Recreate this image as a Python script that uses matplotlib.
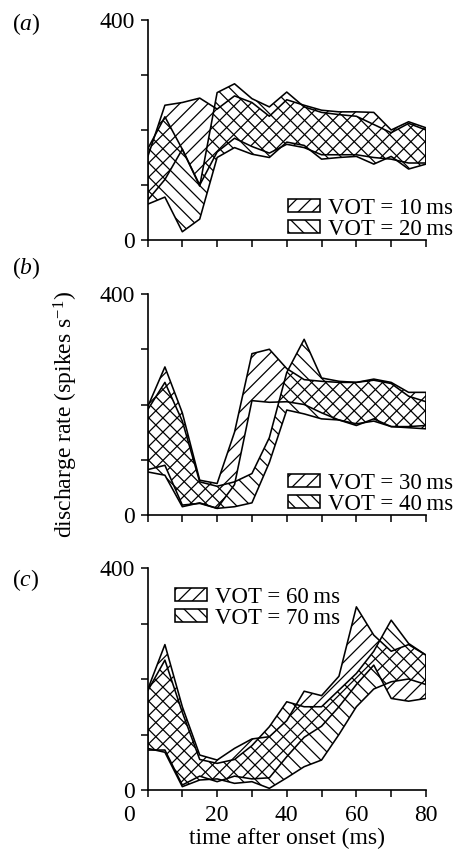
import matplotlib
matplotlib.use('Agg')
import matplotlib.pyplot as plt
from matplotlib.transforms import ScaledTranslation

DPI = 85
K = 100 / DPI          # keep pixel sizes as if at 100 dpi, but denser hatching

plt.rcParams['font.family'] = ['Liberation Serif', 'DejaVu Serif']
plt.rcParams['mathtext.fontset'] = 'custom'
plt.rcParams['mathtext.rm'] = 'Liberation Serif'
plt.rcParams['mathtext.it'] = 'Liberation Serif:italic'
plt.rcParams['hatch.linewidth'] = 0.9 * K

FS = 17 * K
FS_LEG = 16.5 * K

# ---------------- data ----------------
time_ms = [0, 5, 10, 15, 20, 25, 30, 35, 40, 45, 50, 55, 60, 65, 70, 75, 80]

# panel (a)
vot10_upper = [150, 245, 250, 258, 238, 262, 250, 225, 255, 245, 236, 233, 233, 232, 200, 215, 204]
vot10_lower = [72, 110, 165, 100, 160, 185, 170, 158, 174, 168, 155, 155, 155, 150, 147, 140, 140]
vot20_upper = [165, 224, 165, 98, 268, 284, 257, 242, 269, 242, 232, 228, 225, 210, 195, 212, 200]
vot20_lower = [65, 78, 15, 38, 150, 168, 156, 150, 178, 172, 147, 150, 152, 138, 152, 129, 138]

# panel (b)
vot30_upper = [195, 268, 185, 63, 57, 150, 292, 300, 265, 245, 242, 240, 240, 246, 240, 222, 222]
vot30_lower = [82, 90, 18, 21, 12, 55, 207, 204, 205, 200, 185, 172, 162, 174, 160, 158, 156]
vot40_upper = [190, 240, 170, 60, 52, 60, 75, 140, 258, 318, 248, 242, 240, 244, 238, 215, 205]
vot40_lower = [78, 72, 15, 22, 12, 15, 22, 95, 190, 183, 174, 172, 165, 170, 160, 160, 162]

# panel (c)
vot60_upper = [180, 262, 150, 63, 54, 75, 92, 96, 125, 178, 170, 205, 330, 279, 250, 262, 243]
vot60_lower = [72, 72, 9, 25, 15, 25, 20, 22, 60, 95, 115, 150, 190, 225, 165, 160, 165]
vot70_upper = [178, 234, 140, 55, 48, 55, 80, 114, 159, 150, 150, 180, 210, 250, 306, 264, 243]
vot70_lower = [75, 68, 6, 18, 20, 12, 15, 3, 22, 42, 54, 100, 150, 182, 195, 200, 190]

panel_letters = ['a', 'b', 'c']
legend_labels = [['VOT = 10\u2009ms', 'VOT = 20\u2009ms'],
                 ['VOT = 30\u2009ms', 'VOT = 40\u2009ms'],
                 ['VOT = 60\u2009ms', 'VOT = 70\u2009ms']]
bands = [[(vot10_lower, vot10_upper), (vot20_lower, vot20_upper)],
         [(vot30_lower, vot30_upper), (vot40_lower, vot40_upper)],
         [(vot60_lower, vot60_upper), (vot70_lower, vot70_upper)]]
hatches = ['//', '\\\\']

x_major = [0, 20, 40, 60, 80]
x_minor = [10, 30, 50, 70]
y_ticks = [0, 100, 200, 300, 400]
y_ticklabels = ['0', '', '', '', '400']

# ---------------- layout ----------------
W, H = 459, 849
fig = plt.figure(figsize=(W / DPI, H / DPI), dpi=DPI)

ax_px = [(20, 240), (294, 515), (568, 790)]        # (top, bottom) in pixels
letter_y = [24, 268, 580]
legend_anchor = [(288, 219), (288, 494), (175, 608)]

left_px, right_px = 147.5, 426
axes = []
for i, (top, bot) in enumerate(ax_px):
    ax = fig.add_axes([left_px / W, 1 - bot / H, (right_px - left_px) / W, (bot - top) / H])
    axes.append(ax)
    handles = []
    for (lo, up), h, lab in zip(bands[i], hatches, legend_labels[i]):
        p = ax.fill_between(time_ms, lo, up, facecolor='none', edgecolor='black',
                            hatch=h, linewidth=1.15 * K, label=lab)
        handles.append(p)
    ax.set_xlim(0, 80)
    ax.set_ylim(0, 400)
    for s in ['top', 'right']:
        ax.spines[s].set_visible(False)
    for s in ['left', 'bottom']:
        ax.spines[s].set_linewidth(1.2 * K)
    ax.set_xticks(x_major)
    ax.set_xticks(x_minor, minor=True)
    ax.set_yticks(y_ticks)
    ax.set_yticklabels(y_ticklabels)
    ax.tick_params(which='both', direction='out', length=5 * K, width=1.1 * K,
                   labelsize=FS, pad=4 * K)
    ax.tick_params(axis='x', which='both', pad=6 * K)
    if i < 2:
        ax.tick_params(axis='x', which='both', labelbottom=False)
    ax.set_xticklabels([str(v) for v in x_major] if i == 2 else [])

    lx, ly = legend_anchor[i]
    ax.legend(handles=handles, loc='center left', bbox_to_anchor=(lx / W, 1 - ly / H),
              bbox_transform=fig.transFigure, frameon=False, borderpad=0,
              borderaxespad=0, handlelength=1.4, handleheight=0.5,
              handletextpad=0.35, labelspacing=0.0, fontsize=FS_LEG)

    fig.text(12 / W, 1 - letter_y[i] / H, '($\\mathit{%s}$)' % panel_letters[i],
             ha='left', va='center', fontsize=FS)

# shift the "0" x tick label left as in the original
bottom_ax = axes[2]
fig.canvas.draw()
lbl0 = bottom_ax.xaxis.get_major_ticks()[0].label1
lbl0.set_transform(lbl0.get_transform() + ScaledTranslation(-18 / DPI, 0, fig.dpi_scale_trans))

bottom_ax.set_xlabel('time after onset (ms)', fontsize=FS, labelpad=1 * K)
fig.text(66 / W, 1 - 415 / H, 'discharge rate (spikes s$^{-1}$)', rotation=90,
         ha='center', va='center', fontsize=FS)

fig.savefig('out.png', dpi=DPI)
